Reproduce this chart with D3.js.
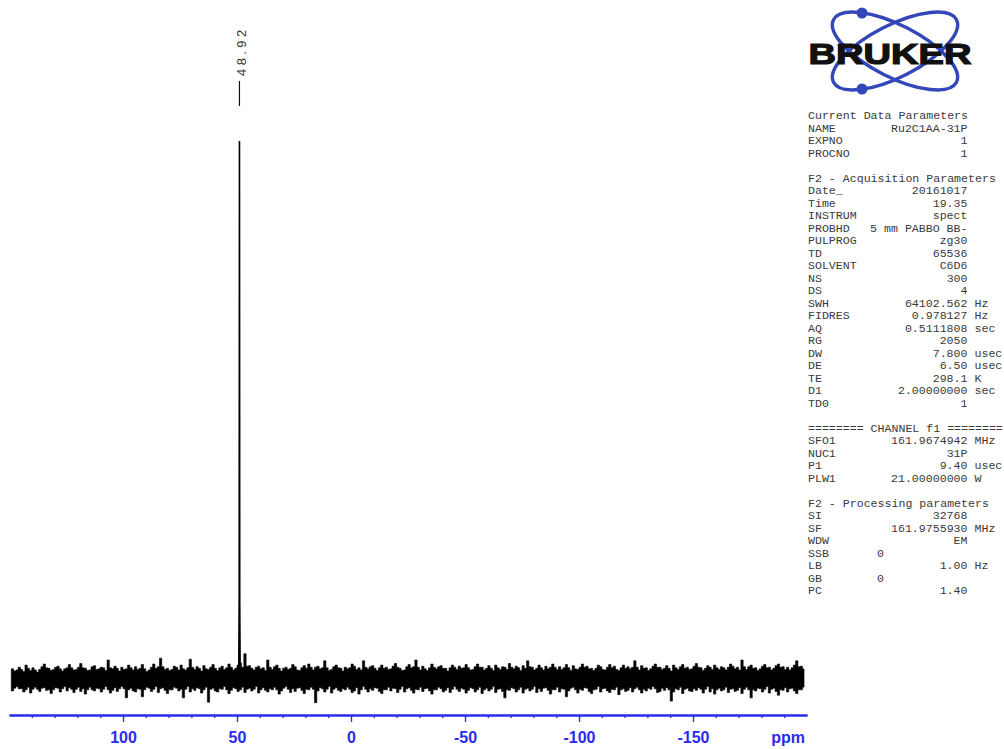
<!DOCTYPE html>
<html>
<head>
<meta charset="utf-8">
<script src="https://cdn.jsdelivr.net/npm/d3@7"></script>
<style>
  html, body { margin: 0; padding: 0; background: #fff; }
  svg { display: block; }
  .par { font-family: "Liberation Mono", "DejaVu Sans Mono", monospace; font-size: 11.6px; fill: #3a3a3a; white-space: pre; }
</style>
</head>
<body>
<svg id="chart" width="1004" height="749"></svg>
<script>
// 31P spectrum, Ru2C1AA-31P, C6D6
const majorTicks = [100, 50, 0, -50, -100, -150];
const minorTicks = d3.range(140, -200, -10);

// single resonance: ppm positions and relative intensity (top = 100)
const peakPpm = [49.25, 49.05, 48.92, 48.80, 48.60];
const peakVal = [0, 14, 100, 14, 0];
const peakLabels = ["48.92"];

// baseline noise envelope, 1 ppm bins starting at 149 ppm (upper / lower extremes)
const noiseStart = 149, noiseBin = 1;
const noiseHi = [
  1.7,1.3, 1.5,2.0, 1.6,1.2, 2.4,1.8, 1.4,1.9, 1.5,1.1, 1.6,2.1, 2.6,1.9, 1.8,1.4, 1.6,2.0,
  2.2,1.7, 1.3,1.7, 1.9,2.5, 1.9,1.5, 1.6,2.0, 2.7,1.9, 1.8,1.4, 1.5,2.1, 2.3,1.6, 1.7,2.0,
  1.9,1.4, 3.35,1.9, 1.7,2.2, 1.8,1.3, 2.0,1.6, 1.7,2.4, 1.9,1.5, 2.1,1.6, 1.8,2.5, 1.7,1.2,
  1.5,2.0, 2.6,1.8, 2.1,3.7, 2.1,1.6, 1.8,1.4, 1.6,2.2, 2.0,1.5, 2.4,1.7, 1.5,1.9, 3.5,2.0,
  1.6,2.1, 1.8,1.3, 2.3,1.7, 1.6,2.0, 2.5,1.8, 1.4,1.9, 2.2,1.6, 1.9,2.6, 2.0,1.5, 1.8,2.4,
  2.8,2.0, 4.5,2.2, 2.3,1.8, 1.5,2.0, 2.2,1.7, 1.9,1.4, 3.35,2.0, 1.6,2.1, 2.4,1.8, 1.3,1.8,
  2.0,1.6, 1.8,2.5, 2.1,1.5, 1.4,1.9, 2.3,1.8, 2.6,2.0, 1.5,2.0, 2.2,1.7, 1.9,3.2, 1.9,1.4,
  1.6,2.1, 2.4,1.9, 1.8,1.3, 2.0,1.7, 1.9,2.6, 2.2,1.6, 1.9,1.5, 3.2,2.0, 1.7,2.1, 2.3,1.8,
  1.4,1.9, 2.4,1.8, 2.0,1.6, 1.7,2.2, 2.7,2.0, 1.8,1.4, 1.5,2.1, 2.5,1.9, 2.1,3.35, 2.0,1.5,
  2.2,1.7, 1.4,1.9, 2.6,2.0, 1.7,2.1, 2.3,1.8, 1.8,1.3, 1.9,2.4, 2.0,1.6, 2.2,1.8, 1.9,2.5,
  1.9,1.5, 1.6,2.1, 2.6,2.0, 2.0,1.5, 1.8,2.3, 1.8,1.4, 2.4,1.9, 1.6,2.1, 2.0,1.6, 2.7,2.0,
  1.7,2.2, 1.9,1.4, 2.3,1.8, 3.2,2.1, 2.0,1.5, 1.8,2.4, 1.9,1.5, 2.2,1.7, 2.0,2.6, 2.0,1.6,
  2.1,1.6, 1.9,2.5, 1.9,1.4, 2.3,1.7, 1.6,2.0, 2.6,2.0, 2.2,1.7, 1.8,1.4, 1.8,2.4, 2.1,1.6,
  1.5,2.0, 2.5,1.9, 2.2,1.6, 1.4,1.9, 2.4,1.8, 2.1,1.7, 2.0,3.2, 2.0,1.5, 2.3,1.8, 1.9,1.4,
  1.7,2.2, 2.6,2.0, 2.0,1.6, 1.8,2.3, 1.8,1.3, 2.4,1.9, 1.6,2.1, 2.5,1.8, 2.0,1.6, 1.7,2.2,
  2.7,2.0, 1.9,1.4, 1.8,2.3, 2.0,1.6, 2.4,1.9, 1.6,2.1, 1.9,1.5, 2.0,2.6, 2.2,1.7, 2.0,1.5,
  3.35,2.1, 1.6,2.1, 2.4,1.8, 1.9,1.4, 1.7,2.2, 2.5,1.9, 2.0,1.5, 1.8,2.3, 2.6,2.0, 2.1,1.6,
  2.0,1.5, 1.9,2.4, 3.2,2.1, 2.2,1.7
];
const noiseLo = [
  -2.4,-1.9, -1.6,-2.0, -2.0,-2.6, -2.2,-1.7, -2.8,-2.1, -1.7,-2.1, -2.5,-1.9, -1.8,-2.3, -2.2,-2.9, -2.2,-1.8,
  -1.9,-2.6, -2.0,-1.6, -2.4,-1.8, -2.1,-2.7, -2.1,-1.7, -2.5,-2.0, -3.0,-2.2, -1.7,-2.2, -2.4,-1.9, -2.0,-2.6,
  -2.1,-1.6, -2.2,-2.8, -2.3,-1.8, -2.5,-2.0, -1.6,-2.0, -3.7,-2.2, -1.9,-2.4, -2.6,-2.0, -2.1,-3.5, -2.2,-1.7,
  -1.9,-2.5, -2.1,-1.6, -2.7,-2.0, -1.8,-2.3, -2.9,-2.2, -2.2,-1.7, -1.9,-2.4, -2.1,-3.7, -2.1,-1.6, -2.6,-2.0,
  -2.3,-1.8, -2.0,-2.8, -2.2,-1.7, -4.5,-2.1, -1.9,-2.4, -2.6,-2.0, -2.1,-1.6, -2.2,-2.9, -2.3,-1.8, -2.0,-2.5,
  -2.2,-1.7, -2.7,-2.1, -1.9,-2.4, -2.1,-1.6, -2.8,-2.2, -1.8,-2.3, -2.6,-2.0, -2.2,-1.7, -2.2,-3.0, -2.4,-1.9,
  -1.6,-2.1, -2.7,-2.0, -2.5,-1.9, -1.8,-2.3, -2.9,-2.1, -2.2,-1.7, -2.1,-4.6, -2.4,-1.8, -2.0,-2.6, -2.1,-1.6,
  -2.8,-2.1, -1.8,-2.3, -2.5,-2.0, -2.2,-1.7, -2.1,-2.7, -2.4,-1.8, -3.0,-2.2, -1.6,-2.1, -2.6,-2.0, -2.3,-1.8,
  -1.9,-2.5, -2.9,-2.2, -2.2,-1.7, -2.4,-1.9, -2.0,-2.7, -2.1,-1.6, -2.6,-2.0, -1.8,-2.3, -2.8,-2.1, -2.2,-1.7,
  -2.5,-2.0, -1.9,-2.4, -3.0,-2.2, -2.2,-1.7, -2.0,-2.6, -2.3,-1.8, -2.7,-2.1, -1.6,-2.1, -2.5,-1.9, -2.1,-2.8,
  -2.3,-1.8, -2.0,-2.6, -2.2,-1.7, -2.9,-2.2, -1.9,-2.4, -2.1,-1.6, -2.7,-2.1, -2.0,-2.5, -3.7,-2.2, -2.3,-1.8,
  -2.0,-2.6, -2.2,-1.7, -2.8,-2.1, -1.9,-2.4, -2.1,-1.6, -2.7,-2.0, -2.5,-1.9, -1.8,-2.3, -3.0,-2.2, -2.2,-1.7,
  -2.6,-2.0, -2.1,-3.5, -2.4,-1.9, -1.7,-2.2, -2.8,-2.1, -2.3,-1.8, -1.9,-2.5, -2.9,-2.2, -2.1,-1.6, -2.6,-2.0,
  -1.9,-2.4, -2.7,-2.1, -2.2,-1.7, -3.1,-2.2, -2.0,-2.5, -2.3,-1.8, -2.6,-2.0, -1.7,-2.2, -2.8,-2.1, -2.4,-1.9,
  -2.1,-1.6, -2.0,-2.7, -2.5,-1.9, -2.3,-1.8, -2.2,-4.3, -2.6,-2.0, -2.2,-1.7, -2.9,-2.1, -1.9,-2.4, -2.5,-2.0,
  -2.3,-1.8, -2.1,-2.8, -2.1,-1.6, -2.6,-2.0, -3.0,-2.2, -1.9,-2.4, -2.2,-1.7, -2.7,-2.1, -2.0,-2.5, -2.3,-1.8,
  -2.9,-2.1, -1.7,-2.2, -3.7,-2.2, -2.4,-1.9, -2.0,-2.6, -2.1,-1.6, -2.8,-2.1, -1.9,-2.5, -3.2,-2.2, -2.3,-1.8,
  -2.6,-2.0, -1.9,-2.4, -2.9,-2.2, -2.2,-1.7
];

// acquisition / processing parameter listing: [name, value, unit]
const paramRows = [
  ["Current Data Parameters"],
  ["NAME", "Ru2C1AA-31P"],
  ["EXPNO", "1"],
  ["PROCNO", "1"],
  [],
  ["F2 - Acquisition Parameters"],
  ["Date_", "20161017"],
  ["Time", "19.35"],
  ["INSTRUM", "spect"],
  ["PROBHD", "5 mm PABBO BB-"],
  ["PULPROG", "zg30"],
  ["TD", "65536"],
  ["SOLVENT", "C6D6"],
  ["NS", "300"],
  ["DS", "4"],
  ["SWH", "64102.562", "Hz"],
  ["FIDRES", "0.978127", "Hz"],
  ["AQ", "0.5111808", "sec"],
  ["RG", "2050"],
  ["DW", "7.800", "usec"],
  ["DE", "6.50", "usec"],
  ["TE", "298.1", "K"],
  ["D1", "2.00000000", "sec"],
  ["TD0", "1"],
  [],
  ["======== CHANNEL f1 ========"],
  ["SFO1", "161.9674942", "MHz"],
  ["NUC1", "31P"],
  ["P1", "9.40", "usec"],
  ["PLW1", "21.00000000", "W"],
  [],
  ["F2 - Processing parameters"],
  ["SI", "32768"],
  ["SF", "161.9755930", "MHz"],
  ["WDW", "EM"],
  ["SSB", "0            "],
  ["LB", "1.00", "Hz"],
  ["GB", "0            "],
  ["PC", "1.40"]
];

const svg = d3.select("#chart");
svg.append("rect").attr("width", 1004).attr("height", 749).attr("fill", "#fff");

const x = d3.scaleLinear().domain([150, -200]).range([9, 807]);
const y = d3.scaleLinear().domain([0, 100]).range([678, 141]);

// ---- noise band ----
const noise = noiseHi.map((h, i) => ({ ppm: noiseStart - i * noiseBin, hi: h, lo: noiseLo[i] }));
const last = noise[noise.length - 1];
noise.push({ ppm: last.ppm - noiseBin * 0.7, hi: last.hi, lo: last.lo });

svg.append("path")
  .datum(noise)
  .attr("d", d3.area()
    .x(d => x(d.ppm))
    .y0(d => y(d.lo))
    .y1(d => y(d.hi))
    .curve(d3.curveStepAfter))
  .attr("fill", "#000")
  .attr("stroke", "#000")
  .attr("stroke-width", 0.6);

// ---- peak ----
const peak = peakPpm.map((p, i) => ({ ppm: p, v: peakVal[i] }));
svg.append("path")
  .datum(peak)
  .attr("d", d3.line().x(d => x(d.ppm)).y(d => y(d.v)))
  .attr("fill", "none")
  .attr("stroke", "#000")
  .attr("stroke-width", 1.6);

// peak label with leader
peakLabels.forEach(lbl => {
  const px = x(+lbl);
  svg.append("line")
    .attr("x1", px).attr("x2", px)
    .attr("y1", 81).attr("y2", 106)
    .attr("stroke", "#111").attr("stroke-width", 1.2);
  svg.append("text")
    .attr("transform", `translate(${px + 7},76) rotate(-90)`)
    .attr("font-family", "Liberation Sans, Arial, sans-serif")
    .attr("font-size", 13)
    .attr("letter-spacing", 3.4)
    .attr("fill", "#333")
    .text(lbl);
});

// ---- ppm axis ----
const blue = "#2b2bf0";
const axisG = svg.append("g").attr("transform", "translate(0,715)");
axisG.call(d3.axisBottom(x).tickValues(minorTicks).tickSize(3).tickSizeOuter(0).tickFormat(""));
const majorG = svg.append("g").attr("transform", "translate(0,715)");
majorG.call(d3.axisBottom(x).tickValues(majorTicks).tickSize(7).tickSizeOuter(0).tickFormat(d => String(d)));
[axisG, majorG].forEach(g => {
  g.selectAll("path.domain").attr("stroke", blue).attr("stroke-width", 2);
  g.selectAll(".tick line").attr("stroke", blue).attr("stroke-width", 1.3);
});
majorG.selectAll(".tick text")
  .attr("y", 28).attr("dy", 0)
  .attr("fill", blue)
  .attr("font-family", "Liberation Sans, Arial, sans-serif")
  .attr("font-weight", "bold")
  .attr("font-size", 16);
svg.append("text")
  .attr("x", 805).attr("y", 743)
  .attr("text-anchor", "end")
  .attr("fill", blue)
  .attr("font-family", "Liberation Sans, Arial, sans-serif")
  .attr("font-weight", "bold")
  .attr("font-size", 16)
  .text("ppm");

// ---- logo ----
const logo = svg.append("g");
const orbitBlue = "#3347b8";
[-27, 27].forEach(a => {
  logo.append("ellipse")
    .attr("cx", 895).attr("cy", 51)
    .attr("rx", 69).attr("ry", 26)
    .attr("transform", `rotate(${a},895,51)`)
    .attr("fill", "none")
    .attr("stroke", orbitBlue)
    .attr("stroke-width", 3.4);
});
[[862, 13], [862, 89]].forEach(([cx, cy]) => {
  logo.append("circle").attr("cx", cx).attr("cy", cy).attr("r", 5.5).attr("fill", orbitBlue);
});
logo.append("text")
  .attr("x", 808.5).attr("y", 64)
  .attr("font-family", "Liberation Sans, Arial, sans-serif")
  .attr("font-weight", "bold")
  .attr("font-size", 30)
  .attr("textLength", 163)
  .attr("lengthAdjust", "spacingAndGlyphs")
  .attr("fill", "#111")
  .attr("stroke", "#111")
  .attr("stroke-width", 1.2)
  .text("BRUKER");

// ---- parameter listing ----
const par = svg.append("g");
paramRows.forEach((row, i) => {
  if (!row.length) return;
  const yy = 119 + i * 12.5;
  par.append("text").attr("class", "par").attr("x", 808).attr("y", yy).text(row[0]);
  if (row[1] !== undefined) {
    par.append("text").attr("class", "par").attr("x", 967.5).attr("y", yy)
      .attr("text-anchor", "end").text(row[1]);
  }
  if (row[2] !== undefined) {
    par.append("text").attr("class", "par").attr("x", 974.5).attr("y", yy).text(row[2]);
  }
});
</script>
</body>
</html>
